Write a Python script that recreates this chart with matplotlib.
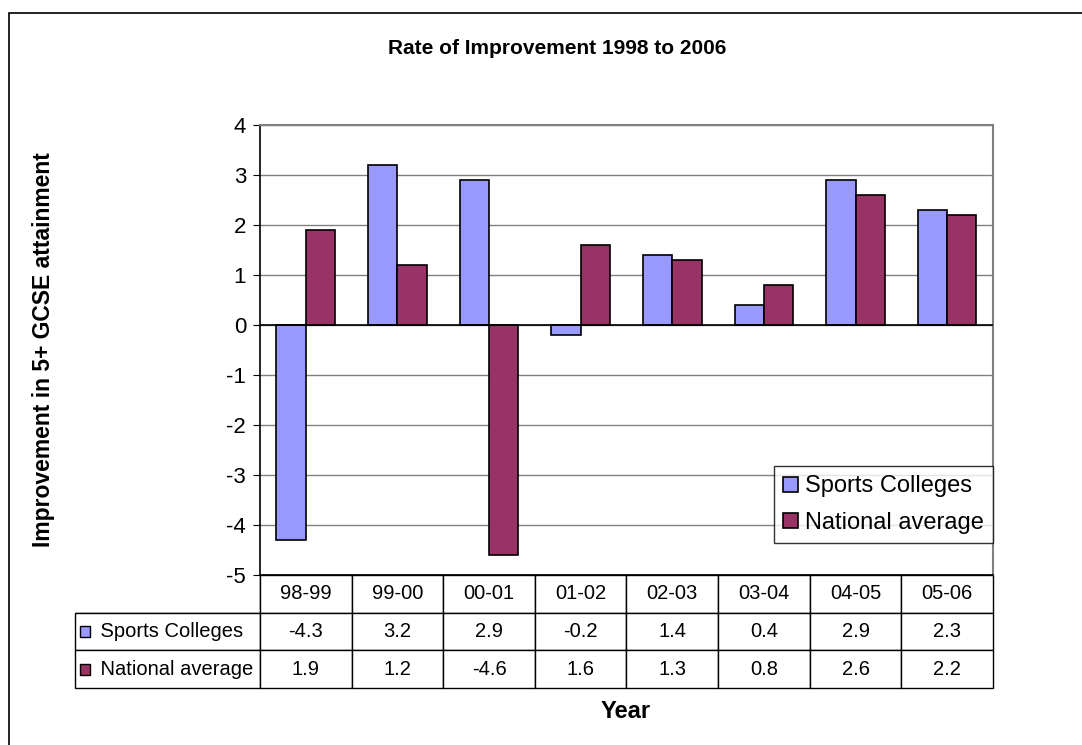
import matplotlib.pyplot as plt
import numpy as np
from matplotlib.patches import Rectangle

plt.rcParams['font.family'] = ['Liberation Sans', 'DejaVu Sans']
plt.rcParams['axes.unicode_minus'] = False

years = ['98-99', '99-00', '00-01', '01-02', '02-03', '03-04', '04-05', '05-06']
sports_colleges = [-4.3, 3.2, 2.9, -0.2, 1.4, 0.4, 2.9, 2.3]
national_average = [1.9, 1.2, -4.6, 1.6, 1.3, 0.8, 2.6, 2.2]

c_sports = '#9999FF'
c_national = '#993366'

fig = plt.figure(figsize=(10.82, 7.45), dpi=100)
ax = fig.add_axes([0.2403, 0.2282, 0.6774, 0.604])

x = np.arange(len(years))
w = 0.32
ax.bar(x - w / 2, sports_colleges, w, color=c_sports, edgecolor='black', linewidth=1.2,
       label='Sports Colleges', zorder=3)
ax.bar(x + w / 2, national_average, w, color=c_national, edgecolor='black', linewidth=1.2,
       label='National average', zorder=3)

ax.set_xlim(-0.5, len(years) - 0.5)
ax.set_ylim(-5, 4)
ax.set_yticks(range(-5, 5))
ax.tick_params(axis='y', labelsize=16, length=5, direction='out', pad=5)
ax.set_xticks([])
ax.yaxis.grid(True, color='#808080', linewidth=1, zorder=0)
ax.axhline(0, color='black', linewidth=1.2, zorder=4)
for s in ['top', 'right']:
    ax.spines[s].set_color('#808080')
    ax.spines[s].set_linewidth(1.5)
ax.spines['left'].set_linewidth(1.2)
ax.spines['bottom'].set_linewidth(1.2)

fig.text(557 / 1082, 1 - 48 / 745, 'Rate of Improvement 1998 to 2006', fontsize=15,
         fontweight='bold', ha='center', va='center')
ax.set_ylabel('Improvement in 5+ GCSE attainment', fontsize=16.5, fontweight='bold')
ax.yaxis.set_label_coords(-0.28, 0.5)

leg = ax.legend(loc='lower right', bbox_to_anchor=(1.0, 0.071), borderaxespad=0,
                fontsize=17, frameon=True, fancybox=False, handlelength=0.6,
                handleheight=0.6, handletextpad=0.3, borderpad=0.4, labelspacing=0.6)
leg.get_frame().set_edgecolor('black')
leg.get_frame().set_linewidth(1)

# data table under the plot, first column holds the series names
lab_w = 0.252
cells = [['    Sports Colleges'] + [f'{v:g}' for v in sports_colleges],
         ['    National average'] + [f'{v:g}' for v in national_average]]
tbl = ax.table(cellText=cells, colLabels=[''] + years, cellLoc='center',
               colWidths=[lab_w] + [1 / 8] * 8,
               bbox=[-lab_w, -0.251, 1 + lab_w, 0.251])
tbl.auto_set_font_size(False)
tbl.set_fontsize(14.5)
for (r, c), cell in tbl.get_celld().items():
    cell.set_edgecolor('black')
    cell.set_linewidth(1)
    cell.PAD = 0.015
    if c == 0:
        cell.get_text().set_ha('left')
        cell._loc = 'left'
tbl[0, 0].visible_edges = 'BR'

# colour keys in the series name cells
for i, col in enumerate([c_sports, c_national]):
    yc = -0.251 + (0.251 / 3) * (1.5 - i)
    ax.add_patch(Rectangle((-0.245, yc - 0.012), 0.0136, 0.024, transform=ax.transAxes,
                           facecolor=col, edgecolor='black', linewidth=1, clip_on=False,
                           zorder=5))

fig.text(0.5785, 1 - 712 / 745, 'Year', fontsize=17, fontweight='bold',
         ha='center', va='center')

# chart border
fig.patches.append(Rectangle((9 / 1082, -0.1), 1.2, (745 - 13) / 745 + 0.1,
                             transform=fig.transFigure, fill=False,
                             edgecolor='black', linewidth=1.2))

fig.savefig('out.png', dpi=100)
